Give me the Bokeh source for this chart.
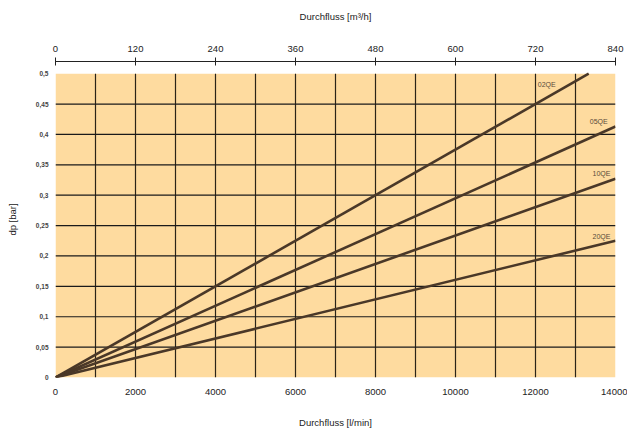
from bokeh.plotting import figure
from bokeh.models import Range1d, LinearAxis, FixedTicker, CustomJSTickFormatter, ColumnDataSource
from bokeh.embed import file_html
from bokeh.resources import INLINE

# Data
flow_lmin_max = 14000
flow_m3h_max = 840
series_names = ["02QE", "05QE", "10QE", "20QE"]
series_x_end = [13330, 14000, 14000, 14000]
series_y_end = [0.5, 0.413, 0.327, 0.225]
label_x = [12280, 13580, 13650, 13650]
label_y = [0.482, 0.421, 0.336, 0.232]
x_ticks = [0, 2000, 4000, 6000, 8000, 10000, 12000, 14000]
x_grid = [1000, 2000, 3000, 4000, 5000, 6000, 7000, 8000, 9000, 10000, 11000, 12000, 13000]
y_ticks = [0, 0.05, 0.1, 0.15, 0.2, 0.25, 0.3, 0.35, 0.4, 0.45, 0.5]
y_grid = [0.05, 0.1, 0.15, 0.2, 0.25, 0.3, 0.35, 0.4, 0.45]
top_ticks = [0, 120, 240, 360, 480, 600, 720, 840]
y_max = 0.5
y_top = 0.52

FONT = "Liberation Sans"
ORANGE = "#FEDB9F"
LINE = "#4a3828"
TXT = "#222222"
FS = "9.5px"

p = figure(width=627, height=432, output_backend="svg", toolbar_location=None,
           x_range=Range1d(0, flow_lmin_max), y_range=Range1d(0, y_top),
           min_border_left=55, min_border_right=12, min_border_top=61, min_border_bottom=55,
           x_axis_label="Durchfluss [l/min]", y_axis_label="dp [bar]")
p.outline_line_color = None
p.background_fill_color = "white"
p.xgrid.visible = False
p.ygrid.visible = False

# orange panel
p.quad(left=[0], right=[flow_lmin_max], bottom=[0], top=[y_max], fill_color=ORANGE, line_color=None)

# grid lines
p.segment(x0=x_grid, y0=[0] * len(x_grid), x1=x_grid, y1=[y_max] * len(x_grid),
          line_color="#2a2418", line_width=1.2)
p.segment(x0=[0] * len(y_grid), y0=y_grid, x1=[flow_lmin_max] * len(y_grid), y1=y_grid,
          line_color="#1a1a1a", line_width=1.2)

# series
for name, xe, ye in zip(series_names, series_x_end, series_y_end):
    p.line([0, xe], [0, ye], line_color=LINE, line_width=2.6)

src = ColumnDataSource(dict(x=label_x, y=label_y, t=series_names))
p.text(x="x", y="y", text="t", source=src, text_font_size="7px", text_color="#5a4a3a",
       text_align="center", text_baseline="middle")

# bottom axis
xa = p.xaxis[0]
xa.ticker = FixedTicker(ticks=x_ticks)
xa.axis_line_color = None
xa.major_tick_line_color = None
xa.major_tick_out = 0
xa.major_tick_in = 0
xa.minor_tick_line_color = None
xa.minor_tick_out = 0
xa.major_label_standoff = 11
xa.major_label_text_font = FONT
xa.major_label_text_font_size = FS
xa.major_label_text_color = TXT
xa.axis_label_text_font = FONT
xa.axis_label_text_font_size = FS
xa.axis_label_text_font_style = "normal"
xa.axis_label_text_color = TXT
xa.axis_label_standoff = 19

# left axis
ya = p.yaxis[0]
ya.ticker = FixedTicker(ticks=y_ticks)
ya.formatter = CustomJSTickFormatter(code="return String(Math.round(tick*100)/100).replace('.', ',');")
ya.axis_line_color = None
ya.major_tick_line_color = None
ya.major_tick_out = 0
ya.major_tick_in = 0
ya.minor_tick_line_color = None
ya.minor_tick_out = 0
ya.major_label_standoff = 7
ya.major_label_text_font = FONT
ya.major_label_text_font_size = "6.5px"
ya.major_label_text_font_style = "bold"
ya.major_label_text_color = "#444444"
ya.axis_label_text_font = FONT
ya.axis_label_text_font_size = FS
ya.axis_label_text_font_style = "normal"
ya.axis_label_text_color = TXT
ya.axis_label_standoff = 15

# top axis in m3/h
p.extra_x_ranges = {"m3h": Range1d(0, flow_m3h_max)}
ta = LinearAxis(x_range_name="m3h", axis_label="Durchfluss [m³/h]")
ta.ticker = FixedTicker(ticks=top_ticks)
ta.axis_line_color = TXT
ta.axis_line_width = 1.2
ta.major_tick_line_color = TXT
ta.major_tick_in = 4
ta.major_tick_out = 4
ta.minor_tick_line_color = None
ta.minor_tick_out = 0
ta.minor_tick_in = 0
ta.major_label_standoff = 6
ta.major_label_text_font = FONT
ta.major_label_text_font_size = FS
ta.major_label_text_color = TXT
ta.axis_label_text_font = FONT
ta.axis_label_text_font_size = FS
ta.axis_label_text_font_style = "normal"
ta.axis_label_text_color = TXT
ta.axis_label_standoff = 21
p.add_layout(ta, "above")

open("out.html", "w").write(file_html(p, INLINE))
